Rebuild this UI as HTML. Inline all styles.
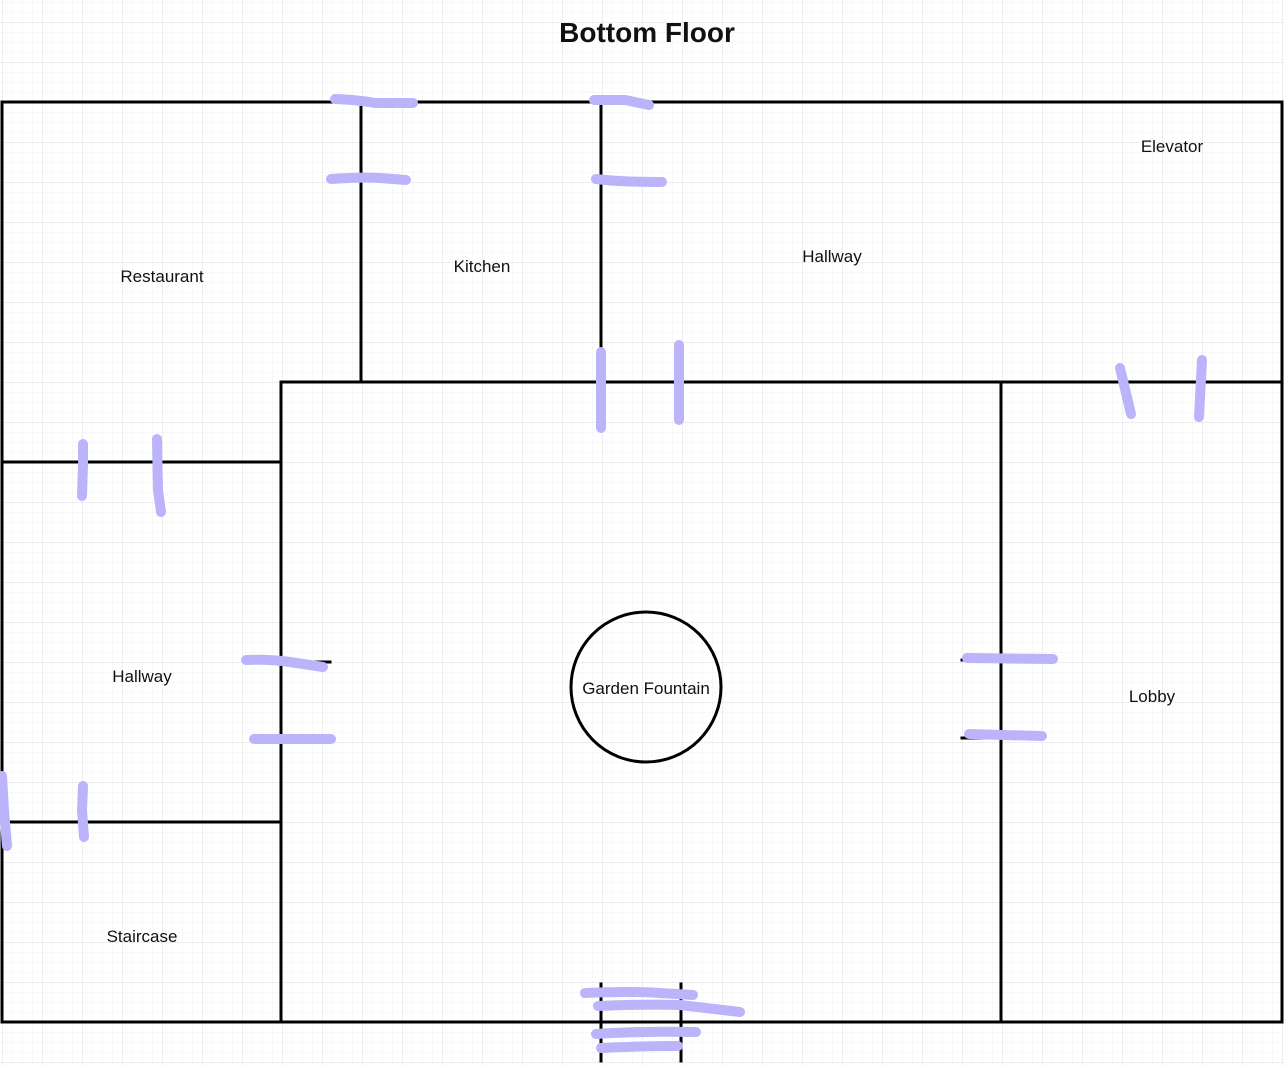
<!DOCTYPE html>
<html><head><meta charset="utf-8"><style>
html,body{margin:0;padding:0;background:#fff;width:1284px;height:1066px;overflow:hidden}
svg{display:block}
text{font-family:"Liberation Sans",Arial,sans-serif;fill:#111}
</style></head><body>
<svg width="1284" height="1066" viewBox="0 0 1284 1066" xmlns="http://www.w3.org/2000/svg">
<defs>
<pattern id="minor" x="2" y="2" width="10" height="10" patternUnits="userSpaceOnUse">
<path d="M0 0H10M0 0V10" stroke="#f0f0f0" stroke-width="1" fill="none"/>
</pattern>
<pattern id="major" x="2" y="22" width="40" height="40" patternUnits="userSpaceOnUse">
<path d="M0 0H40M0 0V40" stroke="#dedede" stroke-width="1" fill="none"/>
</pattern>
</defs>
<rect width="1284" height="1066" fill="#fff"/>
<rect width="1284" height="1066" fill="url(#minor)"/>
<rect width="1284" height="1066" fill="url(#major)"/>

<text x="647" y="42" font-size="28" font-weight="bold" text-anchor="middle">Bottom Floor</text>

<g stroke="#000" stroke-width="3" fill="none" stroke-linecap="square">
<rect x="2" y="102" width="1280" height="920"/>
<line x1="361" y1="102" x2="361" y2="382"/>
<line x1="601" y1="102" x2="601" y2="382"/>
<line x1="281" y1="382" x2="1282" y2="382"/>
<line x1="281" y1="382" x2="281" y2="1022"/>
<line x1="2" y1="462" x2="281" y2="462"/>
<line x1="2" y1="822" x2="281" y2="822"/>
<line x1="1001" y1="382" x2="1001" y2="1022"/>
<line x1="281" y1="662" x2="330" y2="662"/>
<line x1="962" y1="660" x2="1001" y2="660"/>
<line x1="962" y1="738" x2="1001" y2="738"/>
<line x1="601" y1="984" x2="601" y2="1061"/>
<line x1="681" y1="984" x2="681" y2="1061"/>
</g>
<circle cx="646" cy="687" r="75" fill="none" stroke="#000" stroke-width="3"/>

<g stroke="#bcb4fb" stroke-width="10" fill="none" stroke-linecap="round" stroke-linejoin="round">
<path d="M335 99 Q360 100 375 103 L413 103"/>
<path d="M331 179 Q360 177 380 178 L406 180"/>
<path d="M594 100 L625 100 L649 105"/>
<path d="M596 179 Q620 182 662 182"/>
<path d="M601 352 L601 428"/>
<path d="M679 345 L679 420"/>
<path d="M1120 368 L1131 414"/>
<path d="M1202 360 L1199 417"/>
<path d="M83 444 L83 465 L82 496"/>
<path d="M157 439 L158 490 L161 512"/>
<path d="M246 660 Q270 659 290 662 L323 667"/>
<path d="M254 739 L331 739"/>
<path d="M2 776 L4 810 L7 846"/>
<path d="M83 786 L82 810 L84 837"/>
<path d="M967 658 L1053 659"/>
<path d="M969 734 L1042 736"/>
<path d="M585 993 Q630 991 660 993 L693 995"/>
<path d="M598 1006 Q640 1004 680 1005 L740 1012"/>
<path d="M596 1034 Q640 1031 696 1032"/>
<path d="M601 1048 Q640 1046 678 1046"/>
</g>

<g font-size="17" text-anchor="middle">
<text x="162" y="282">Restaurant</text>
<text x="482" y="272">Kitchen</text>
<text x="832" y="262">Hallway</text>
<text x="1172" y="152">Elevator</text>
<text x="142" y="682">Hallway</text>
<text x="646" y="694">Garden Fountain</text>
<text x="1152" y="702">Lobby</text>
<text x="142" y="942">Staircase</text>
</g>
</svg>
</body></html>
